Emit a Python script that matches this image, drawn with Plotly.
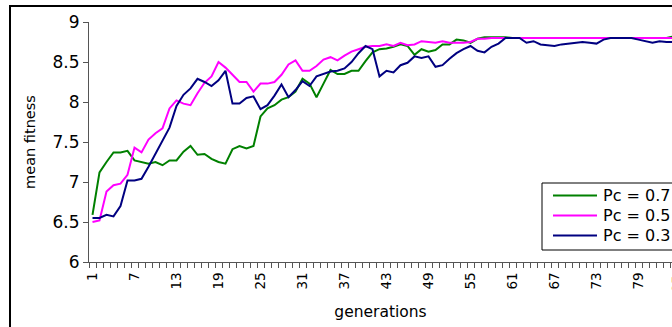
import plotly.graph_objects as go

generations = list(range(1, 86))

pc07 = [6.59, 7.12, 7.25, 7.37, 7.37, 7.39, 7.27, 7.25, 7.23, 7.25,
        7.21, 7.27, 7.27, 7.38, 7.45, 7.34, 7.35, 7.29, 7.25, 7.23,
        7.41, 7.45, 7.42, 7.45, 7.82, 7.92, 7.96, 8.03, 8.06, 8.13,
        8.29, 8.23, 8.06, 8.23, 8.40, 8.35, 8.35, 8.39, 8.39, 8.51,
        8.62, 8.66, 8.67, 8.69, 8.72, 8.70, 8.59, 8.66, 8.63, 8.65,
        8.72, 8.72, 8.78, 8.77, 8.74, 8.79, 8.81, 8.81, 8.81, 8.81,
        8.80, 8.80, 8.80, 8.80, 8.80, 8.80, 8.80, 8.80, 8.80, 8.80,
        8.80, 8.80, 8.80, 8.80, 8.80, 8.80, 8.80, 8.80, 8.80, 8.80,
        8.80, 8.80, 8.80, 8.82, 8.82]

pc05 = [6.50, 6.52, 6.88, 6.96, 6.98, 7.09, 7.43, 7.37, 7.53, 7.61,
        7.67, 7.92, 8.02, 7.98, 7.96, 8.11, 8.24, 8.32, 8.50, 8.43,
        8.34, 8.25, 8.25, 8.13, 8.23, 8.23, 8.25, 8.34, 8.47, 8.52,
        8.39, 8.39, 8.45, 8.53, 8.56, 8.52, 8.58, 8.63, 8.66, 8.69,
        8.70, 8.70, 8.72, 8.70, 8.74, 8.71, 8.72, 8.76, 8.75, 8.74,
        8.76, 8.74, 8.74, 8.74, 8.75, 8.79, 8.79, 8.80, 8.80, 8.80,
        8.80, 8.80, 8.80, 8.80, 8.80, 8.80, 8.80, 8.80, 8.80, 8.80,
        8.80, 8.80, 8.80, 8.80, 8.80, 8.80, 8.80, 8.80, 8.80, 8.80,
        8.80, 8.80, 8.80, 8.80, 8.80]

pc03 = [6.55, 6.55, 6.59, 6.57, 6.70, 7.02, 7.02, 7.04, 7.19, 7.35,
        7.52, 7.68, 7.95, 8.09, 8.17, 8.29, 8.25, 8.20, 8.27, 8.39,
        7.98, 7.98, 8.05, 8.07, 7.91, 7.96, 8.08, 8.22, 8.06, 8.15,
        8.26, 8.20, 8.32, 8.35, 8.38, 8.39, 8.42, 8.50, 8.61, 8.70,
        8.66, 8.32, 8.39, 8.37, 8.46, 8.49, 8.57, 8.55, 8.57, 8.44,
        8.46, 8.54, 8.61, 8.66, 8.70, 8.64, 8.62, 8.69, 8.73, 8.80,
        8.80, 8.80, 8.74, 8.76, 8.72, 8.71, 8.70, 8.72, 8.73, 8.74,
        8.75, 8.74, 8.73, 8.78, 8.80, 8.80, 8.80, 8.80, 8.78, 8.76,
        8.74, 8.76, 8.75, 8.75, 8.76]

series_names = ["Pc = 0.7", "Pc = 0.5", "Pc = 0.3"]
series_colors = ["#008000", "#FF00FF", "#000080"]

x_tick_labels = [1, 7, 13, 19, 25, 31, 37, 43, 49, 55, 61, 67, 73, 79]
y_tick_values = [6, 6.5, 7, 7.5, 8, 8.5, 9]
y_tick_labels = ["6", "6.5", "7", "7.5", "8", "8.5", "9"]

FONT = "DejaVu Sans"
W, H = 672, 327
ML, MR, MT, MB = 89, 0, 22, 65
PW, PH = W - ML - MR, H - MT - MB
PX_PER_GEN = 7.0

fig = go.Figure()
for name, ys, col in zip(series_names, [pc07, pc05, pc03], series_colors):
    fig.add_trace(go.Scatter(x=generations, y=ys, mode="lines", name=name,
                             line=dict(color=col, width=2), showlegend=False))


def px_to_paper_x(px):
    return (px - ML) / PW


def px_to_paper_y(py):
    return (H - MB - py) / PH


# outer chart frame (cut by the picture's right and bottom edges)
shapes = [dict(type="path", xref="paper", yref="paper",
               path=(f"M {px_to_paper_x(10)},{px_to_paper_y(340)} "
                     f"L {px_to_paper_x(10)},{px_to_paper_y(6)} "
                     f"L {px_to_paper_x(690)},{px_to_paper_y(6)}"),
               line=dict(color="black", width=2))]

# legend box drawn as layout decoration
shapes.append(dict(type="rect", xref="paper", yref="paper",
                   x0=px_to_paper_x(542), x1=px_to_paper_x(700),
                   y0=px_to_paper_y(250), y1=px_to_paper_y(183),
                   line=dict(color="black", width=1), fillcolor="white", layer="above"))
annotations = []
for i, (name, col) in enumerate(zip(series_names, series_colors)):
    ry = 195.5 + i * 20
    shapes.append(dict(type="line", xref="paper", yref="paper",
                       x0=px_to_paper_x(553), x1=px_to_paper_x(597),
                       y0=px_to_paper_y(ry), y1=px_to_paper_y(ry),
                       line=dict(color=col, width=2), layer="above"))
    annotations.append(dict(text=name, xref="paper", yref="paper",
                            x=px_to_paper_x(601), y=px_to_paper_y(ry),
                            xanchor="left", yanchor="middle", showarrow=False,
                            font=dict(family=FONT, size=16, color="black")))

annotations.append(dict(text="85", xref="paper", yref="paper", x=px_to_paper_x(676), y=px_to_paper_y(273),
                        xanchor="center", yanchor="top", textangle=-90, showarrow=False,
                        font=dict(family=FONT, size=13.5)))

fig.update_layout(
    template="none",
    width=W, height=H,
    margin=dict(l=ML, r=MR, t=MT, b=MB, pad=0, autoexpand=False),
    paper_bgcolor="white", plot_bgcolor="white",
    font=dict(family=FONT, color="black"),
    showlegend=False,
    xaxis=dict(range=[0.5, 0.5 + PW / PX_PER_GEN], automargin=False,
               showline=True, linecolor="#555", linewidth=1,
               showgrid=False, zeroline=False,
               tickmode="array", tickvals=x_tick_labels, ticktext=[str(v) for v in x_tick_labels],
               ticks="", tickangle=-90, tickfont=dict(family=FONT, size=13.5),
               ticklabelstandoff=4,
               minor=dict(tickmode="linear", tick0=0.5, dtick=1, ticks="outside", ticklen=5,
                          tickcolor="#555", showgrid=False),
               title=dict(text="generations", font=dict(family=FONT, size=15.5), standoff=17)),
    yaxis=dict(range=[6, 9], automargin=False,
               showline=True, linecolor="#555", linewidth=1,
               showgrid=False, zeroline=False,
               tickmode="array", tickvals=y_tick_values, ticktext=y_tick_labels,
               ticks="outside", ticklen=5, tickcolor="#555",
               tickfont=dict(family=FONT, size=17),
               title=dict(text="mean fitness", font=dict(family=FONT, size=14.5), standoff=13)),
    shapes=shapes,
    annotations=annotations,
)

fig.write_html("out.html", config={"displayModeBar": False},
               post_script="document.body.style.margin='0px';")
